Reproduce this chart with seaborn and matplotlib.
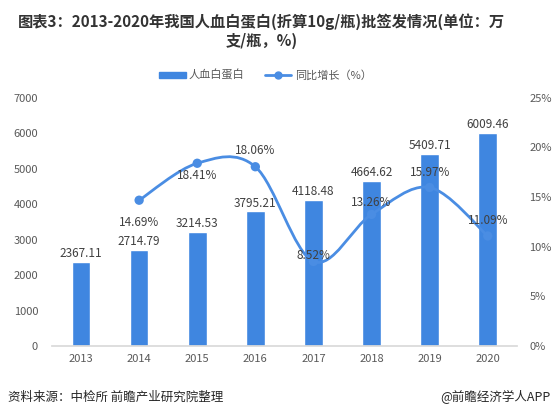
import matplotlib
matplotlib.use("Agg")
import matplotlib.pyplot as plt
from matplotlib.path import Path
from matplotlib.patches import PathPatch
from matplotlib.lines import Line2D
from matplotlib.patches import Patch
import seaborn as sns
import numpy as np
import pandas as pd

years = ["2013", "2014", "2015", "2016", "2017", "2018", "2019", "2020"]
volume = [2367.11, 2714.79, 3214.53, 3795.21, 4118.48, 4664.62, 5409.71, 6009.46]
growth_years = ["2014", "2015", "2016", "2017", "2018", "2019", "2020"]
growth = [14.69, 18.41, 18.06, 8.52, 13.26, 15.97, 11.09]

bar_color = "#3F86E0"
line_color = "#4A8DE3"
text_color = "#404040"
tick_color = "#595959"

sns.set_theme(style="white")
plt.rcParams["font.family"] = ["Noto Sans CJK SC", "DejaVu Sans"]

df = pd.DataFrame({"year": years, "volume": volume})

fig = plt.figure(figsize=(5.56, 4.18), dpi=100)
ax = fig.add_axes([0.0935, 0.172, 0.836, 0.594])
sns.barplot(data=df, x="year", y="volume", color=bar_color, width=0.32,
            saturation=1, ax=ax)
ax.set_ylim(0, 7000)
ax.set_yticks(range(0, 7001, 1000))
ax.set_xlim(-0.5, 7.5)
ax.set_xlabel("")
ax.set_ylabel("")
for s in ["top", "right", "left"]:
    ax.spines[s].set_visible(False)
ax.spines["bottom"].set_color("#D9D9D9")
ax.tick_params(axis="both", length=0, labelsize=8, labelcolor=tick_color, pad=6)
ax.tick_params(axis="y", pad=10)

for i, v in enumerate(volume):
    ax.text(i, v + 50, f"{v:.2f}", ha="center", va="bottom", fontsize=8.5,
            color=text_color)

ax2 = ax.twinx()
ax2.set_ylim(0, 25)
ax2.set_yticks(range(0, 26, 5))
ax2.set_yticklabels([f"{t}%" for t in range(0, 26, 5)])
for s in ["top", "right", "left", "bottom"]:
    ax2.spines[s].set_visible(False)
ax2.tick_params(axis="y", length=0, labelsize=8, labelcolor=tick_color, pad=9)

# smoothed line (Catmull-Rom style bezier through the points)
gx = np.array([years.index(y) for y in growth_years], dtype=float)
gy = np.array(growth, dtype=float)
pts = np.column_stack([gx, gy])
verts = [tuple(pts[0])]
codes = [Path.MOVETO]
n = len(pts)
for i in range(n - 1):
    p0 = pts[max(i - 1, 0)]
    p1 = pts[i]
    p2 = pts[i + 1]
    p3 = pts[min(i + 2, n - 1)]
    c1 = p1 + (p2 - p0) / 6
    c2 = p2 - (p3 - p1) / 6
    verts += [tuple(c1), tuple(c2), tuple(p2)]
    codes += [Path.CURVE4] * 3
ax2.add_patch(PathPatch(Path(verts, codes), facecolor="none",
                        edgecolor=line_color, lw=2, zorder=3))
gdf = pd.DataFrame({"x": gx, "y": gy})
sns.scatterplot(data=gdf, x="x", y="y", ax=ax2, color=line_color, s=45,
                edgecolor="none", zorder=4)
ax2.set_xlabel("")
ax2.set_ylabel("")
ax2.set_xlim(-0.5, 7.5)

offsets = [-2.2, -1.2, 1.6, 0.6, 1.2, 1.5, 1.6]
for x, y, o in zip(gx, gy, offsets):
    ax2.text(x, y + o, f"{y:.2f}%", ha="center", va="center", fontsize=8.5,
             color=text_color, zorder=5)

fig.text(0.47, 0.925, "图表3：2013-2020年我国人血白蛋白(折算10g/瓶)批签发情况(单位：万\n支/瓶，%)",
         ha="center", va="center", fontsize=11, fontweight="bold",
         color="#333333", linespacing=1.2)

handles = [Patch(color=bar_color), Line2D([], [], color=line_color, lw=2,
                                          marker="o", markersize=5)]
fig.legend(handles, ["人血白蛋白", "同比增长（%）"], loc="center",
           bbox_to_anchor=(0.477, 0.82), ncol=2, frameon=False, fontsize=8,
           labelcolor=tick_color, handlelength=2.4, handleheight=0.5,
           columnspacing=1.8, handletextpad=0.3)

fig.text(0.014, 0.05, "资料来源：中检所 前瞻产业研究院整理", ha="left", va="center",
         fontsize=9, color="#262626")
fig.text(0.99, 0.05, "@前瞻经济学人APP", ha="right", va="center",
         fontsize=9, color="#262626")

fig.savefig("out.png", dpi=100, facecolor="white")
